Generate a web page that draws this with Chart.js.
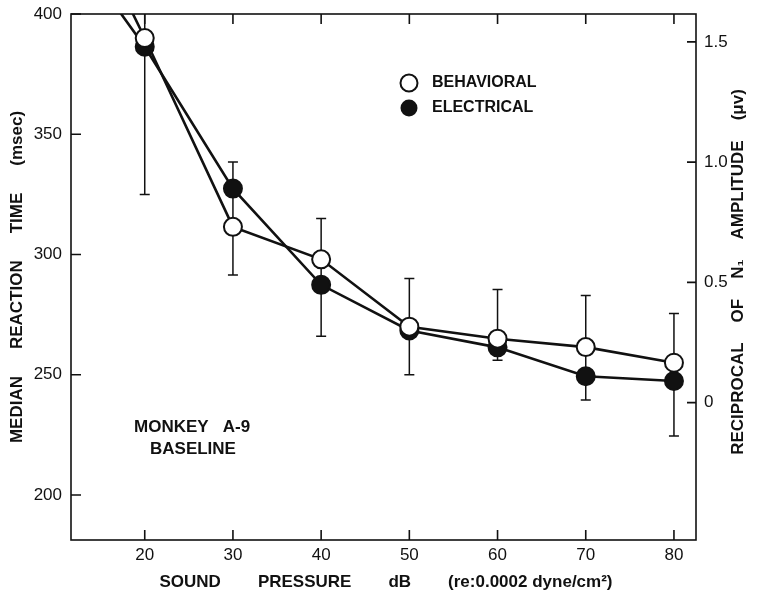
<!DOCTYPE html>
<html>
<head>
<meta charset="utf-8">
<script src="https://cdn.jsdelivr.net/npm/chart.js@4.4.0/dist/chart.umd.min.js"></script>
<style>
    html, body { margin: 0; padding: 0; background: #fff; }
    #wrap { width: 758px; height: 601px; position: relative; }
</style>
</head>
<body>
<div id="wrap"><canvas id="rtChart"></canvas></div>
<script>
// Sound pressure, dB re 0.0002 dyne/cm2
const soundLevels = [10, 20, 30, 40, 50, 60, 70, 80];
// Median reaction time in msec (left axis)
const behavioralRT = [465, 390, 311.5, 298, 270, 265, 261.5, 255];
// Reciprocal of N1 amplitude, 1/uV (right axis)
const electricalRecip = [1.99, 1.48, 0.89, 0.49, 0.30, 0.23, 0.11, 0.09];

// Spread of the behavioral reaction times
const errorLevels = [20, 30, 40, 50, 60, 70, 80];
const errorLow = [325, 291.5, 266, 250, 256, 239.5, 224.5];
const errorHigh = [455, 338.5, 315, 290, 285.5, 283, 275.5];

const xTicks = [20, 30, 40, 50, 60, 70, 80];
const rtTicks = [200, 250, 300, 350, 400];
const recipTicks = [0, 0.5, 1.0, 1.5];
const recipTickLabels = ['0', '0.5', '1.0', '1.5'];

const FONT = "'Liberation Sans', Arial, sans-serif";
const INK = '#111';

// words laid out along a line with a fixed gap, centred on (cx, cy)
function drawWords(ctx, words, cx, cy, gap, angle) {
    const widths = words.map(w => ctx.measureText(w).width);
    const total = widths.reduce((a, b) => a + b, 0) + gap * (words.length - 1);
    ctx.save();
    ctx.translate(cx, cy);
    ctx.rotate(angle || 0);
    ctx.textAlign = 'left';
    ctx.textBaseline = 'middle';
    let pos = -total / 2;
    words.forEach((w, i) => {
        ctx.fillText(w, pos, 0);
        pos += widths[i] + gap;
    });
    ctx.restore();
}

const errorBars = {
    id: 'errorBars',
    beforeDatasetsDraw(chart) {
        const { ctx, chartArea: a, scales: { x, y } } = chart;
        ctx.save();
        ctx.beginPath();
        ctx.rect(a.left, a.top, a.right - a.left, a.bottom - a.top);
        ctx.clip();
        ctx.strokeStyle = INK;
        ctx.lineWidth = 1.5;
        errorLevels.forEach((lv, i) => {
            const px = x.getPixelForValue(lv);
            const lo = y.getPixelForValue(errorLow[i]);
            const hi = y.getPixelForValue(errorHigh[i]);
            ctx.beginPath();
            ctx.moveTo(px, lo); ctx.lineTo(px, hi);
            ctx.moveTo(px - 5, lo); ctx.lineTo(px + 5, lo);
            ctx.moveTo(px - 5, hi); ctx.lineTo(px + 5, hi);
            ctx.stroke();
        });
        ctx.restore();
    }
};

// box, inward tick marks, titles, key and note
const frameAndText = {
    id: 'frameAndText',
    afterDraw(chart) {
        const { ctx, chartArea: a, scales } = chart;
        ctx.save();
        ctx.strokeStyle = INK;
        ctx.lineWidth = 1.6;
        ctx.strokeRect(a.left, a.top, a.right - a.left, a.bottom - a.top);

        ctx.beginPath();
        xTicks.forEach(v => {
            const px = scales.x.getPixelForValue(v);
            ctx.moveTo(px, a.bottom); ctx.lineTo(px, a.bottom - 10);
            ctx.moveTo(px, a.top); ctx.lineTo(px, a.top + 10);
        });
        rtTicks.forEach(v => {
            const py = scales.y.getPixelForValue(v);
            ctx.moveTo(a.left, py); ctx.lineTo(a.left + 10, py);
        });
        recipTicks.forEach(v => {
            const py = scales.y2.getPixelForValue(v);
            ctx.moveTo(a.right, py); ctx.lineTo(a.right - 9, py);
        });
        ctx.stroke();

        ctx.fillStyle = INK;
        ctx.font = 'bold 17px ' + FONT;
        drawWords(ctx, ['MEDIAN', 'REACTION', 'TIME', '(msec)'], 17, 277, 27, -Math.PI / 2);
        drawWords(ctx, ['SOUND', 'PRESSURE', 'dB', '(re:0.0002 dyne/cm²)'], 386, 582, 37, 0);
        drawWords(ctx, ['RECIPROCAL', 'OF', 'N₁', 'AMPLITUDE', '(μv)'], 738, 272, 20, -Math.PI / 2);

        // key
        ctx.lineWidth = 2;
        ctx.beginPath();
        ctx.arc(409, 83, 8.5, 0, Math.PI * 2);
        ctx.fillStyle = '#fff';
        ctx.fill();
        ctx.stroke();
        ctx.beginPath();
        ctx.arc(409, 108, 8.5, 0, Math.PI * 2);
        ctx.fillStyle = INK;
        ctx.fill();
        ctx.font = 'bold 16px ' + FONT;
        ctx.textAlign = 'left';
        ctx.textBaseline = 'middle';
        ctx.fillText('BEHAVIORAL', 432, 83);
        ctx.fillText('ELECTRICAL', 432, 108);

        // subject note
        ctx.font = 'bold 17px ' + FONT;
        ctx.fillText('MONKEY   A-9', 134, 427);
        ctx.fillText('BASELINE', 150, 449);
        ctx.restore();
    }
};

const tickFont = { family: FONT, size: 17 };

// fixed axis bands so the plot box lands where it should
function fixBand(size) {
    return s => {
        if (s.isHorizontal()) s.height = size; else s.width = size;
        s.paddingTop = 0;
        s.paddingBottom = 0;
        s.paddingLeft = 0;
        s.paddingRight = 0;
    };
}

new Chart(document.getElementById('rtChart'), {
    type: 'scatter',
    data: {
        datasets: [{
            label: 'BEHAVIORAL',
            data: soundLevels.map((lv, i) => ({ x: lv, y: behavioralRT[i] })),
            yAxisID: 'y',
            showLine: true,
            order: 0,
            clip: 0,
            borderColor: INK,
            borderWidth: 2.6,
            pointRadius: 9,
            pointBorderWidth: 2,
            pointBackgroundColor: '#fff',
            pointBorderColor: INK
        }, {
            label: 'ELECTRICAL',
            data: soundLevels.map((lv, i) => ({ x: lv, y: electricalRecip[i] })),
            yAxisID: 'y2',
            showLine: true,
            order: 1,
            clip: 0,
            borderColor: INK,
            borderWidth: 2.6,
            pointRadius: 9,
            pointBorderWidth: 2,
            pointBackgroundColor: INK,
            pointBorderColor: INK
        }]
    },
    options: {
        responsive: true,
        maintainAspectRatio: false,
        animation: false,
        layout: { padding: { top: 14 } },
        plugins: {
            legend: { display: false },
            tooltip: { enabled: false }
        },
        scales: {
            x: {
                type: 'linear',
                min: 11.64,
                max: 82.5,
                afterBuildTicks: s => { s.ticks = xTicks.map(v => ({ value: v })); },
                afterFit: fixBand(61),
                grid: { display: false, drawTicks: false },
                border: { display: false },
                ticks: { color: INK, font: tickFont, padding: 5, maxRotation: 0 }
            },
            y: {
                position: 'left',
                min: 181.3,
                max: 400,
                afterBuildTicks: s => { s.ticks = rtTicks.map(v => ({ value: v })); },
                afterFit: fixBand(71),
                grid: { display: false, drawTicks: false },
                border: { display: false },
                ticks: { color: INK, font: tickFont, padding: 9 }
            },
            y2: {
                position: 'right',
                min: -0.571,
                max: 1.616,
                afterBuildTicks: s => { s.ticks = recipTicks.map(v => ({ value: v })); },
                afterFit: fixBand(62),
                grid: { display: false, drawTicks: false },
                border: { display: false },
                ticks: {
                    color: INK,
                    font: tickFont,
                    padding: 8,
                    callback: v => recipTickLabels[recipTicks.indexOf(v)]
                }
            }
        }
    },
    plugins: [errorBars, frameAndText]
});
</script>
</body>
</html>
